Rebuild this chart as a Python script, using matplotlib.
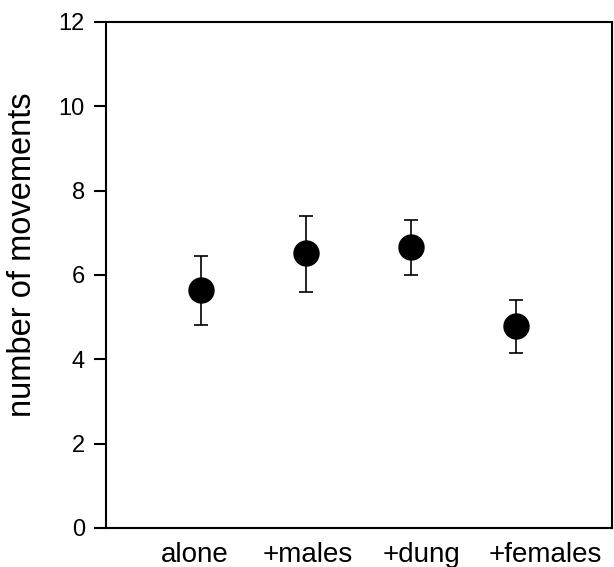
import matplotlib
matplotlib.use("Agg")
import matplotlib.pyplot as plt

plt.rcParams["font.family"] = ["Liberation Sans", "DejaVu Sans"]

# data
groups = ["alone", "+males", "+dung", "+females"]
means = [5.65, 6.51, 6.66, 4.78]
upper = [6.46, 7.41, 7.31, 5.40]
lower = [4.82, 5.59, 6.01, 4.15]
yticks = [0, 2, 4, 6, 8, 10, 12]

# layout: point positions and where the labels sit (they are not centred)
xpos = [1, 2, 3, 4]
label_pos = [0.94, 2.02, 3.10, 4.28]

err = [[m - lo for m, lo in zip(means, lower)],
       [up - m for m, up in zip(means, upper)]]

fig = plt.figure(figsize=(6.14, 5.67), dpi=100)
ax = fig.add_axes([0.172, 0.0688, 0.8243, 0.8924])

ax.errorbar(xpos, means, yerr=err, fmt="o", color="black",
            markersize=18, elinewidth=1.2, capsize=4.8, capthick=1.2)

ax.set_xlim(0.093, 4.911)
ax.set_ylim(0, 12)
ax.set_yticks(yticks)
ax.set_xticks(label_pos)
ax.set_xticklabels(groups)

for s in ax.spines.values():
    s.set_linewidth(1.5)
ax.tick_params(axis="y", length=9, width=1.5, pad=6, labelsize=17)
ax.tick_params(axis="x", length=0, pad=10, labelsize=20)
ax.set_ylabel("number of movements", fontsize=23.5)
# label sits a bit above the axis middle in the reference
ax.yaxis.set_label_coords(-0.134, 0.54)

fig.savefig("out.png", dpi=100)
